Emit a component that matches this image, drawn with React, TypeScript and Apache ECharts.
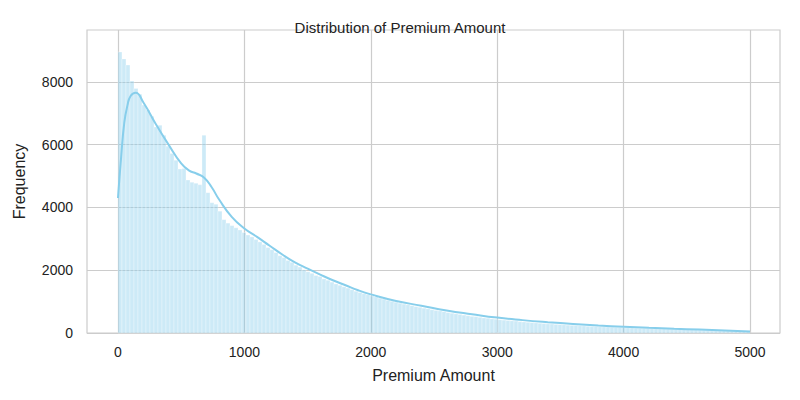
import { useEffect, useRef } from 'react';
import * as echarts from 'echarts';

const binCount = 158;
const binMax = 5000;

// histogram counts, one per bin (width = 5000 / 158)
const counts = [
    8950, 8730, 8535, 8025, 7790, 7600, 7260, 7100, 6900, 6560, 6620, 6300, 5950, 5720, 5500, 5220,
    5240, 4870, 4800, 4770, 4720, 6300, 4470, 4150, 4100, 3880, 3610, 3500, 3420, 3350, 3280, 3200,
    3120, 3060, 2980, 2900, 2820, 2720, 2650, 2560, 2460, 2400, 2310, 2250, 2160, 2100, 2010, 1950,
    1900, 1830, 1800, 1720, 1680, 1620, 1560, 1520, 1470, 1430, 1380, 1330, 1290, 1250, 1220, 1180,
    1150, 1110, 1080, 1040, 1010, 980, 950, 920, 900, 870, 840, 820, 790, 770, 740, 720,
    700, 680, 650, 630, 610, 590, 570, 550, 530, 520, 500, 480, 470, 450, 440, 420,
    410, 400, 390, 380, 360, 350, 340, 330, 320, 310, 300, 290, 285, 275, 270, 260,
    250, 245, 240, 230, 225, 215, 210, 205, 200, 195, 190, 185, 180, 175, 170, 165,
    160, 155, 150, 148, 145, 140, 135, 130, 128, 125, 120, 118, 115, 110, 105, 102,
    100, 96, 92, 90, 86, 82, 80, 76, 72, 68, 65, 60, 55, 50,
];

// KDE curve points [premium amount, frequency]
const kde: [number, number][] = [
    [0, 4300], [25, 5600], [50, 6700], [75, 7250], [100, 7550], [140, 7650], [200, 7350],
    [300, 6650], [400, 6000], [500, 5400], [560, 5180], [620, 5080], [680, 4950], [740, 4650],
    [800, 4250], [900, 3700], [1000, 3330], [1100, 3060], [1200, 2780], [1300, 2500],
    [1400, 2250], [1500, 2050], [1600, 1860], [1700, 1680], [1800, 1520], [1900, 1360],
    [2000, 1230], [2200, 1020], [2400, 870], [2600, 720], [2800, 600], [3000, 490],
    [3200, 410], [3400, 345], [3600, 290], [3800, 240], [4000, 200], [4200, 165],
    [4400, 135], [4600, 110], [4800, 80], [5000, 50],
];

const xTicks = [0, 1000, 2000, 3000, 4000, 5000];
const yTicks = [0, 2000, 4000, 6000, 8000];

const font = '"Liberation Sans", Arial, sans-serif';

export default function App() {
    const chartRef = useRef<HTMLDivElement>(null);

    useEffect(() => {
        if (!chartRef.current) return;
        document.body.style.margin = '0';
        const chart = echarts.init(chartRef.current, null, { renderer: 'svg' });
        const w = binMax / binCount;
        const bars = counts.map((c, i) => [i * w, (i + 1) * w, c]);

        chart.setOption({
            animation: false,
            textStyle: { fontFamily: font },
            title: {
                text: 'Distribution of Premium Amount',
                left: 'center',
                top: 15,
                textStyle: { fontSize: 15, fontWeight: 'normal', color: '#222', fontFamily: font },
            },
            grid: { left: 87, right: 20, top: 30, bottom: 67, show: true, borderColor: '#cccccc', borderWidth: 1.2 },
            xAxis: {
                type: 'value',
                min: -245,
                max: 5237,
                name: 'Premium Amount',
                nameLocation: 'middle',
                nameGap: 34,
                nameTextStyle: { fontSize: 16, color: '#222' },
                axisLine: { show: false },
                axisTick: { show: false, customValues: xTicks },
                axisLabel: { customValues: xTicks, fontSize: 14, color: '#222', margin: 12, formatter: (v: number) => String(v) },
                splitLine: { show: true, lineStyle: { color: '#cccccc', width: 1.2 } },
            },
            yAxis: {
                type: 'value',
                min: 0,
                max: 9650,
                name: 'Frequency',
                nameLocation: 'middle',
                nameGap: 60,
                nameTextStyle: { fontSize: 16, color: '#222' },
                axisLine: { show: false },
                axisTick: { show: false, customValues: yTicks },
                axisLabel: { customValues: yTicks, fontSize: 14, color: '#222', margin: 14, formatter: (v: number) => String(v) },
                splitLine: { show: true, lineStyle: { color: '#cccccc', width: 1.2 } },
            },
            series: [
                {
                    type: 'custom',
                    data: bars,
                    encode: { x: [0, 1], y: 2 },
                    renderItem: (_params: any, api: any) => {
                        const p0 = api.coord([api.value(0), api.value(2)]);
                        const p1 = api.coord([api.value(1), 0]);
                        return {
                            type: 'rect',
                            shape: { x: p0[0], y: p0[1], width: p1[0] - p0[0], height: p1[1] - p0[1] },
                            style: { fill: 'rgba(135,206,235,0.42)', stroke: 'rgba(255,255,255,0.6)', lineWidth: 0.5 },
                        };
                    },
                },
                {
                    type: 'line',
                    data: kde,
                    smooth: true,
                    showSymbol: false,
                    lineStyle: { color: '#87ceeb', width: 2 },
                    z: 5,
                },
            ],
        });

        return () => chart.dispose();
    }, []);

    return <div ref={chartRef} style={{ width: 800, height: 400 }} />;
}
